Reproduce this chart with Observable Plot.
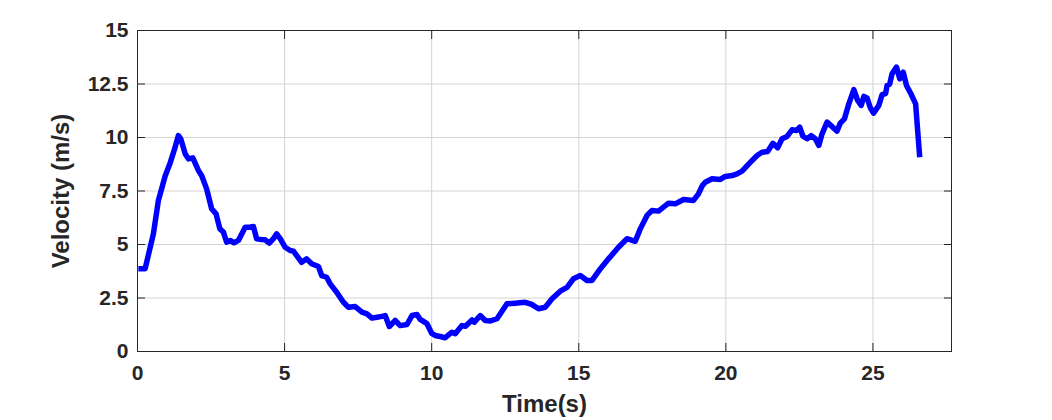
<!DOCTYPE html>
<html>
<head>
<meta charset="utf-8">
<script src="https://cdn.jsdelivr.net/npm/d3@7"></script>
<script src="https://cdn.jsdelivr.net/npm/@observablehq/plot@0.6"></script>
<style>
  html, body { margin: 0; padding: 0; background: #fff; }
  #chart svg { display: block; }
</style>
</head>
<body>
<div id="chart"></div>
<script>
const time = [0.03,0.26,0.54,0.71,0.94,1.1,1.28,1.39,1.47,1.62,1.73,1.88,2.07,2.18,2.35,2.52,2.67,2.8,2.92,3.03,3.15,3.28,3.43,3.66,3.8,3.94,4.05,4.22,4.34,4.48,4.62,4.73,4.85,5.02,5.19,5.3,5.58,5.75,5.92,6.15,6.26,6.43,6.55,6.77,7.0,7.17,7.4,7.63,7.8,7.97,8.14,8.31,8.42,8.56,8.76,8.93,9.16,9.33,9.5,9.61,9.84,10.0,10.12,10.29,10.46,10.55,10.69,10.8,11.03,11.15,11.37,11.45,11.65,11.82,12.0,12.22,12.56,12.84,13.0,13.18,13.4,13.63,13.86,14.09,14.37,14.6,14.82,15.05,15.28,15.45,15.73,16.01,16.35,16.64,16.92,17.09,17.32,17.49,17.71,18.05,18.28,18.56,18.9,19.07,19.2,19.3,19.53,19.81,19.98,20.21,20.38,20.55,20.78,21.06,21.23,21.42,21.6,21.76,21.91,22.08,22.25,22.4,22.51,22.62,22.76,22.9,23.04,23.16,23.27,23.44,23.61,23.78,23.89,24.03,24.18,24.35,24.48,24.6,24.69,24.8,24.91,25.02,25.2,25.31,25.43,25.48,25.57,25.65,25.8,25.91,26.03,26.14,26.28,26.45,26.59];
const velocity = [3.87,3.87,5.5,7.06,8.2,8.77,9.55,10.09,9.94,9.24,9.0,9.05,8.46,8.22,7.6,6.67,6.43,5.73,5.58,5.11,5.19,5.08,5.19,5.81,5.81,5.84,5.27,5.23,5.22,5.06,5.27,5.5,5.27,4.87,4.72,4.69,4.17,4.33,4.1,3.97,3.55,3.47,3.16,2.77,2.3,2.07,2.1,1.84,1.76,1.56,1.6,1.64,1.68,1.17,1.45,1.21,1.26,1.68,1.73,1.5,1.3,0.85,0.75,0.7,0.64,0.75,0.9,0.83,1.21,1.18,1.48,1.37,1.68,1.45,1.43,1.53,2.23,2.26,2.28,2.3,2.2,2.0,2.07,2.46,2.82,3.0,3.4,3.55,3.32,3.32,3.86,4.33,4.87,5.27,5.15,5.73,6.36,6.59,6.56,6.93,6.9,7.1,7.06,7.37,7.75,7.91,8.07,8.04,8.18,8.22,8.3,8.43,8.77,9.16,9.31,9.35,9.73,9.52,9.94,10.05,10.36,10.33,10.48,10.06,9.94,10.09,9.94,9.63,10.17,10.72,10.51,10.3,10.67,10.87,11.57,12.24,11.73,11.5,11.92,11.85,11.39,11.14,11.5,12.0,12.05,12.43,12.5,12.98,13.29,12.74,13.05,12.43,12.07,11.57,9.08];
const xTicks = [0, 5, 10, 15, 20, 25];
const yTicks = [0, 2.5, 5, 7.5, 10, 12.5, 15];
const xLabel = "Time(s)";
const yLabel = "Velocity (m/s)";

const data = time.map((t, i) => ({t, v: velocity[i]}));
const ink = "#262626";

const chart = Plot.plot({
  width: 1052,
  height: 420,
  marginLeft: 137,
  marginRight: 101,
  marginTop: 30,
  marginBottom: 69,
  style: {fontFamily: "'Liberation Sans', Arial, Helvetica, sans-serif", fontWeight: "bold", color: ink, background: "#fff"},
  x: {domain: [0, 27.67], ticks: xTicks},
  y: {domain: [0, 15], ticks: yTicks},
  marks: [
    Plot.gridX(xTicks, {stroke: "#d4d4d4", strokeOpacity: 1, strokeWidth: 1}),
    Plot.gridY(yTicks, {stroke: "#d4d4d4", strokeOpacity: 1, strokeWidth: 1}),
    Plot.frame({stroke: ink, strokeWidth: 1}),
    Plot.axisX(xTicks, {anchor: "bottom", tickSize: -8, fill: "none", stroke: ink, label: null}),
    Plot.axisX(xTicks, {anchor: "top", tickSize: -8, fill: "none", stroke: ink, label: null}),
    Plot.axisY(yTicks, {anchor: "left", tickSize: -8, fill: "none", stroke: ink, label: null}),
    Plot.axisY(yTicks, {anchor: "right", tickSize: -8, fill: "none", stroke: ink, label: null}),
    Plot.axisX(xTicks, {anchor: "bottom", tickSize: 0, tickPadding: 14, fontSize: 21, fill: ink,
      tickFormat: d => String(d), label: xLabel, labelAnchor: "center", labelArrow: "none", labelOffset: 60}),
    Plot.axisY(yTicks, {anchor: "left", tickSize: 0, tickPadding: 9, fontSize: 21, fill: ink,
      tickFormat: d => String(d), label: yLabel, labelAnchor: "center", labelArrow: "none", labelOffset: 86}),
    Plot.line(data, {x: "t", y: "v", stroke: "#0000ff", strokeWidth: 5.5, strokeLinejoin: "round", strokeLinecap: "butt"})
  ]
});

d3.select(chart).selectAll("[aria-label='x-axis label'] text, [aria-label='y-axis label'] text")
  .style("font-size", "24px").style("font-weight", "bold");
document.getElementById("chart").appendChild(chart);
</script>
</body>
</html>
